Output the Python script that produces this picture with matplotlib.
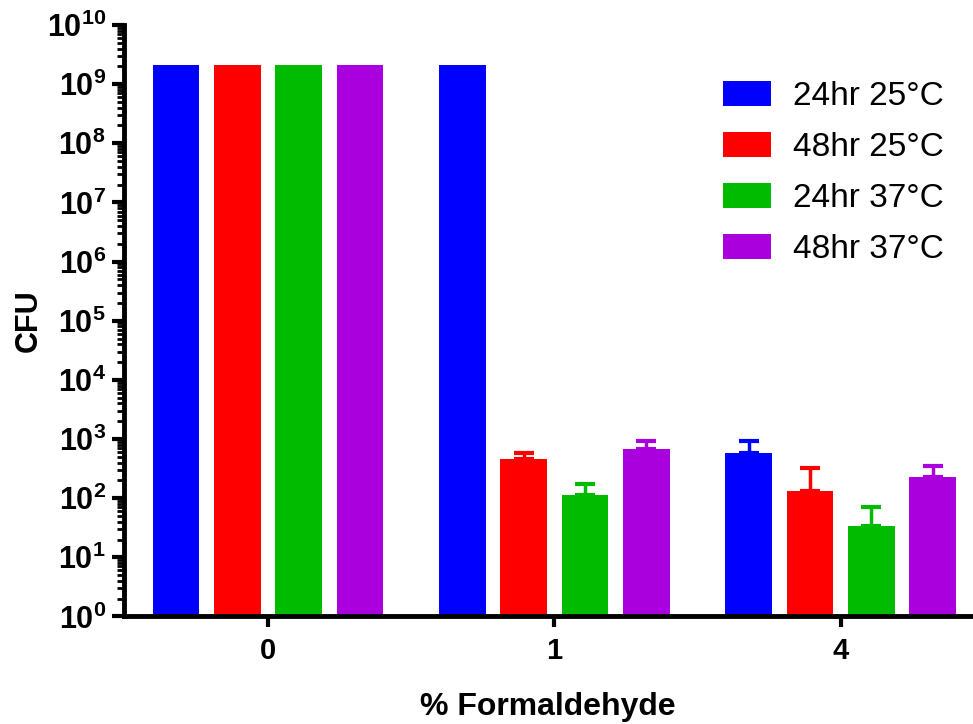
import numpy as np
import matplotlib
matplotlib.use("Agg")
import matplotlib.pyplot as plt
from matplotlib.ticker import LogLocator, FixedLocator, NullFormatter

plt.rcParams["font.family"] = ["Liberation Sans", "DejaVu Sans"]
plt.rcParams["mathtext.fontset"] = "custom"
plt.rcParams["mathtext.rm"] = "Liberation Sans"
plt.rcParams["mathtext.bf"] = "Liberation Sans:bold"

# data
groups = ["0", "1", "4"]
series = ["24hr 25°C", "48hr 25°C", "24hr 37°C", "48hr 37°C"]
colors = ["#0000ff", "#ff0000", "#00bb00", "#aa00dd"]
means = [
    [2.1e9, 2.1e9, 574],
    [2.1e9, 455, 134],
    [2.1e9, 113, 34],
    [2.1e9, 671, 226],
]
upper_err = [
    [0, 0, 364],
    [0, 120, 186],
    [0, 59, 36],
    [0, 267, 129],
]

fig = plt.figure(figsize=(9.73, 7.24), dpi=100)
ax = fig.add_axes([0.1274, 0.1485, 0.872, 0.817])

x = np.arange(len(groups))
pitch = 0.214
width = 0.163
for i, (name, c) in enumerate(zip(series, colors)):
    pos = x + (i - 1.5) * pitch
    m = np.array(means[i], dtype=float)
    e = np.array(upper_err[i], dtype=float)
    ax.bar(pos, m, width=width, color=c, label=name, zorder=2)
    has = e > 0
    ax.errorbar(pos[has], m[has], yerr=[np.zeros(has.sum()), e[has]],
                fmt="none", ecolor=c, elinewidth=2.5, capsize=7.5, capthick=3,
                zorder=1)

ax.set_yscale("log")
ax.set_ylim(1, 1e10)
ax.set_xlim(-0.503, 2.46)

ax.yaxis.set_major_locator(FixedLocator([10.0 ** k for k in range(11)]))
ax.set_yticklabels([r"$\mathbf{10^{%d}}$" % k for k in range(11)])
ax.yaxis.set_minor_locator(LogLocator(base=10, subs=np.arange(2, 10), numticks=20))
ax.yaxis.set_minor_formatter(NullFormatter())

ax.set_xticks(x)
ax.set_xticklabels(groups, fontweight="bold")

for s in ["top", "right"]:
    ax.spines[s].set_visible(False)
for s in ["left", "bottom"]:
    ax.spines[s].set_linewidth(3.5)

ax.tick_params(axis="y", which="major", length=9, width=3, labelsize=22, pad=4)
ax.tick_params(axis="y", which="minor", length=5, width=2)
ax.tick_params(axis="x", which="major", length=8, width=3, labelsize=21, pad=7)

ax.set_ylabel("CFU", fontsize=22, fontweight="bold", labelpad=2)
ax.set_xlabel("% Formaldehyde", fontsize=23, fontweight="bold", labelpad=19)

ax.legend(loc="upper left", bbox_to_anchor=(0.729, 0.907),
          bbox_transform=fig.transFigure, borderaxespad=0, frameon=False,
          fontsize=24, handlelength=1.45, handleheight=0.78,
          labelspacing=0.6, handletextpad=0.65)

fig.savefig("out.png", dpi=100)
